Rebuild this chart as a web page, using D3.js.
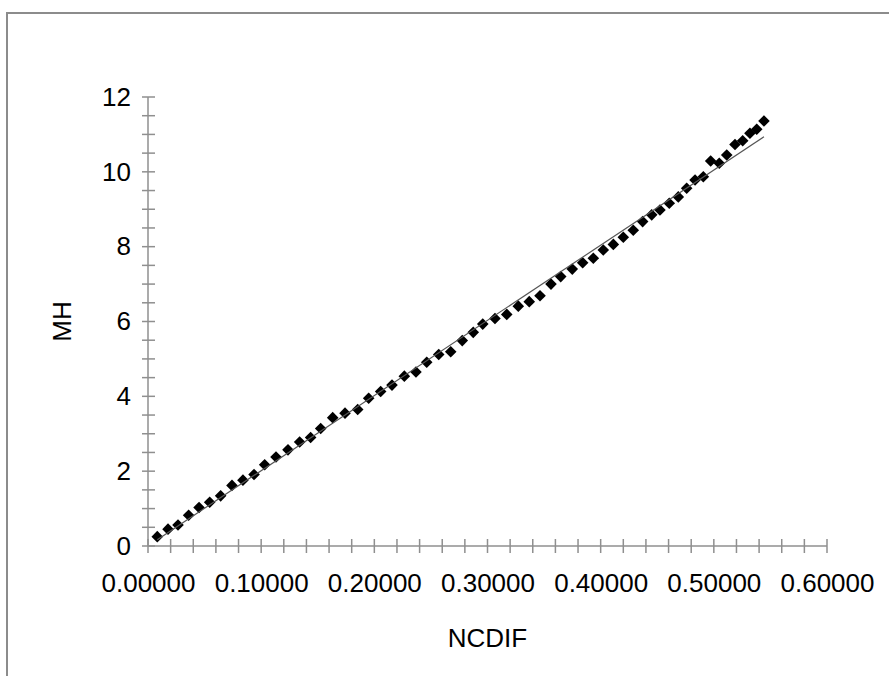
<!DOCTYPE html>
<html><head><meta charset="utf-8">
<script src="https://cdn.jsdelivr.net/npm/d3@7/dist/d3.min.js"></script>
<style>
html,body{margin:0;padding:0;background:#fff;}
svg text{font-family:"Liberation Sans",Arial,sans-serif;fill:#000;}
</style></head>
<body>
<script>
const xValues = [0.0082,0.0177,0.0265,0.0359,0.0451,0.0545,0.0642,0.0742,0.0839,0.0937,0.1031,0.1131,0.1237,0.1340,0.1437,0.1526,0.1632,0.1741,0.1853,0.1950,0.2056,0.2156,0.2265,0.2368,0.2463,0.2569,0.2675,0.2777,0.2874,0.2958,0.3066,0.3170,0.3272,0.3369,0.3464,0.3561,0.3647,0.3749,0.3841,0.3935,0.4023,0.4112,0.4200,0.4288,0.4371,0.4451,0.4524,0.4606,0.4686,0.4760,0.4834,0.4907,0.4972,0.5048,0.5114,0.5187,0.5255,0.5319,0.5379,0.5443];
const yValues = [0.25,0.45,0.56,0.82,1.03,1.17,1.34,1.62,1.76,1.91,2.17,2.38,2.57,2.78,2.90,3.14,3.43,3.55,3.65,3.95,4.13,4.30,4.54,4.65,4.91,5.12,5.19,5.49,5.71,5.93,6.08,6.19,6.41,6.53,6.69,7.00,7.20,7.40,7.57,7.69,7.91,8.06,8.25,8.44,8.67,8.85,8.98,9.16,9.33,9.56,9.78,9.87,10.29,10.23,10.45,10.73,10.83,11.03,11.14,11.36];
const xTicks = [0,0.1,0.2,0.3,0.4,0.5,0.6];
const yTicks = [0,2,4,6,8,10,12];
const xTitle = "NCDIF";
const yTitle = "MH";

const W = 889, H = 676;
const FS = 26;
const svg = d3.select("body").append("svg").attr("width", W).attr("height", H);

// outer chart frame
svg.append("rect").attr("x", 7).attr("y", 13).attr("width", 900).attr("height", 700)
  .attr("fill", "none").attr("stroke", "#8c8c8c").attr("stroke-width", 2);

const x = d3.scaleLinear().domain([0, 0.6]).range([148, 827]);
const y = d3.scaleLinear().domain([0, 12]).range([546, 97]);
const axisColor = "#8f8f8f";

// y axis
const gy = svg.append("g");
gy.append("line").attr("x1", 148).attr("x2", 148).attr("y1", y(12)).attr("y2", y(0))
  .attr("stroke", axisColor).attr("stroke-width", 1.5);
gy.selectAll("line.t").data(d3.range(0, 12.01, 0.5)).join("line").attr("class", "t")
  .attr("x1", 142).attr("x2", 155).attr("y1", d => y(d)).attr("y2", d => y(d))
  .attr("stroke", axisColor).attr("stroke-width", 1.5);
const yAxis = d3.axisLeft(y).tickValues(yTicks).tickSize(0).tickPadding(0).tickFormat(d3.format("d"));
const gya = svg.append("g").attr("transform", "translate(131,0)").call(yAxis);
gya.select(".domain").remove();
gya.selectAll("text").attr("font-size", FS).attr("font-family", "Liberation Sans, Arial, sans-serif").attr("fill", "#000");

// x axis
const gx = svg.append("g");
gx.append("line").attr("x1", x(0)).attr("x2", x(0.6)).attr("y1", 546).attr("y2", 546)
  .attr("stroke", axisColor).attr("stroke-width", 1.5);
gx.selectAll("line.t").data(d3.range(0, 0.6001, 0.02)).join("line").attr("class", "t")
  .attr("x1", d => x(d)).attr("x2", d => x(d)).attr("y1", 539).attr("y2", 553)
  .attr("stroke", axisColor).attr("stroke-width", 1.5);
const xAxis = d3.axisBottom(x).tickValues(xTicks).tickSize(0).tickPadding(0).tickFormat(d3.format(".5f"));
const gxa = svg.append("g").attr("transform", "translate(0,574)").call(xAxis);
gxa.select(".domain").remove();
gxa.selectAll("text").attr("font-size", FS).attr("font-family", "Liberation Sans, Arial, sans-serif").attr("fill", "#000");

// titles
svg.append("text").attr("x", (x(0) + x(0.6)) / 2).attr("y", 647).attr("text-anchor", "middle")
  .attr("font-size", FS).text(xTitle);
svg.append("text").attr("transform", `translate(71,${(y(0) + y(12)) / 2}) rotate(-90)`)
  .attr("text-anchor", "middle").attr("font-size", FS).text(yTitle);

// markers
const pts = xValues.map((v, i) => [v, yValues[i]]);
svg.append("g").selectAll("path").data(pts).join("path")
  .attr("transform", d => `translate(${x(d[0])},${y(d[1])})`)
  .attr("d", "M0,-5.8L5.8,0L0,5.8L-5.8,0Z").attr("fill", "#000");

// linear trendline (least squares)
const mx = d3.mean(xValues), my = d3.mean(yValues);
const sxy = d3.sum(pts, d => (d[0] - mx) * (d[1] - my));
const sxx = d3.sum(xValues, v => (v - mx) * (v - mx));
const b = sxy / sxx, a = my - b * mx;
const x0 = d3.min(xValues), x1 = d3.max(xValues);
svg.append("line").attr("x1", x(x0)).attr("y1", y(a + b * x0)).attr("x2", x(x1)).attr("y2", y(a + b * x1))
  .attr("stroke", "#555").attr("stroke-width", 1.2);
</script>
</body></html>
